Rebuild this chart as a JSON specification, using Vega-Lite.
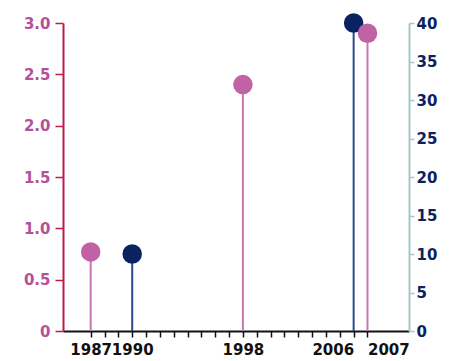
{
  "$schema": "https://vega.github.io/schema/vega-lite/v6.json",
  "width": 346,
  "height": 308,
  "autosize": "none",
  "padding": {"left": 63, "top": 23, "right": 49, "bottom": 30},
  "background": "white",
  "config": {
    "view": {"stroke": null},
    "axis": {"labelFont": "DejaVu Sans", "labelFontWeight": "bold", "labelFontSize": 15, "grid": false}
  },
  "datasets": {
    "pink": [{"year": 1987, "value": 0.77}, {"year": 1998, "value": 2.4}, {"year": 2007, "value": 2.9}],
    "navy": [{"year": 1990, "value": 10}, {"year": 2006, "value": 40}]
  },
  "encoding": {
    "x": {
      "field": "year", "type": "quantitative",
      "scale": {"domain": [1985, 2010], "nice": false, "zero": false},
      "axis": {
        "title": null,
        "values": [1987,1988,1989,1990,1991,1992,1993,1994,1995,1996,1997,1998,1999,2000,2001,2002,2003,2004,2005,2006,2007],
        "labelExpr": "indexof([1987,1990,1998,2006,2007], datum.value) >= 0 ? datum.value : ''",
        "labelAlign": {"expr": "datum.value == 2006 ? 'right' : datum.value == 2007 ? 'left' : 'center'"},
        "labelOverlap": false,
        "labelFlush": false,
        "labelColor": "#111111",
        "labelPadding": 5,
        "domainColor": "#111111",
        "domainWidth": 2,
        "tickColor": "#111111",
        "tickWidth": 1.5,
        "tickSize": 6
      }
    }
  },
  "layer": [
    {
      "data": {"name": "navy"},
      "encoding": {
        "y": {
          "field": "value", "type": "quantitative",
          "scale": {"domain": [0, 40], "nice": false},
          "axis": {
            "orient": "right", "title": null,
            "values": [0,5,10,15,20,25,30,35,40],
            "labelColor": "#0b2260",
            "domainColor": "#a8c8c8", "domainWidth": 2,
            "tickColor": "#a8c8c8", "tickWidth": 1.5, "tickSize": 5,
            "labelPadding": 2
          }
        }
      },
      "layer": [
        {"mark": {"type": "rule", "color": "#2b4a8c", "strokeWidth": 2}, "encoding": {"y2": {"datum": 0}}},
        {"mark": {"type": "circle", "color": "#0b2260", "opacity": 1, "size": 380}, "encoding": {}}
      ]
    },
    {
      "data": {"name": "pink"},
      "encoding": {
        "y": {
          "field": "value", "type": "quantitative",
          "scale": {"domain": [0, 3], "nice": false},
          "axis": {
            "orient": "left", "title": null,
            "values": [0,0.5,1,1.5,2,2.5,3],
            "labelExpr": "datum.value == 0 ? '0' : format(datum.value, '.1f')",
            "labelColor": "#b5509a",
            "domainColor": "#c0184a", "domainWidth": 2,
            "tickColor": "#c0184a", "tickWidth": 1.5, "tickSize": 8,
            "labelPadding": 5
          }
        }
      },
      "layer": [
        {"mark": {"type": "rule", "color": "#c878b0", "strokeWidth": 2}, "encoding": {"y2": {"datum": 0}}},
        {"mark": {"type": "circle", "color": "#c062a4", "opacity": 1, "size": 380}, "encoding": {}}
      ]
    }
  ],
  "resolve": {"scale": {"y": "independent"}}
}
